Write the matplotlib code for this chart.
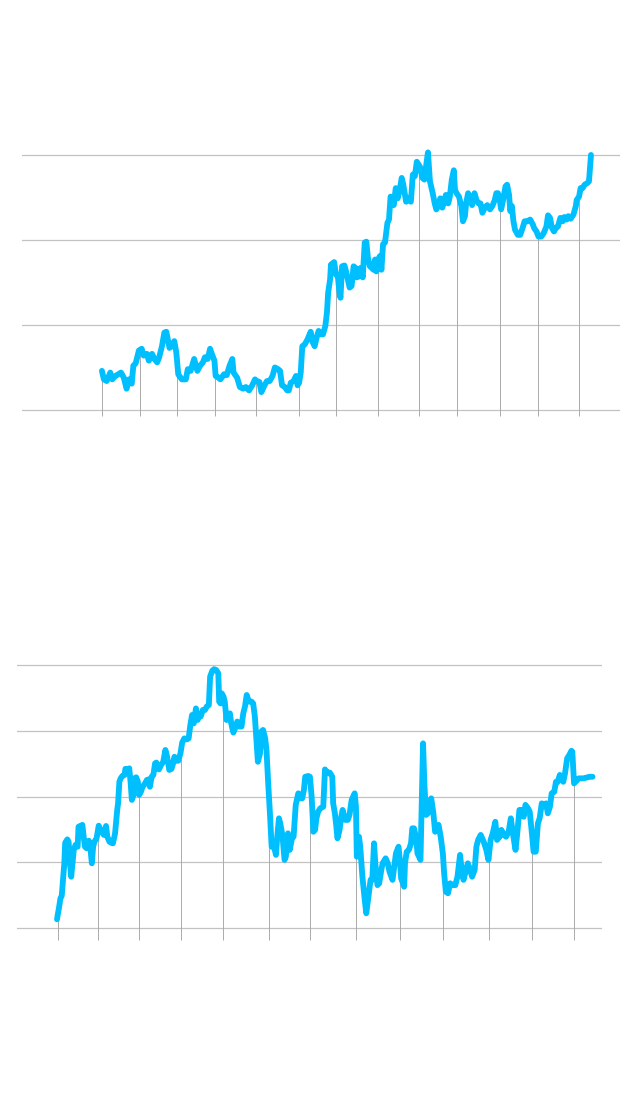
import numpy as np
from matplotlib import pyplot as plt

# top series (decimal year, value)
top_x = [2007.00, 2007.05, 2007.12, 2007.21, 2007.26, 2007.34, 2007.41, 2007.48, 2007.55, 2007.62,
         2007.68, 2007.75, 2007.79, 2007.85, 2007.93, 2008.00, 2008.05, 2008.13, 2008.18, 2008.26,
         2008.32, 2008.39, 2008.44, 2008.51, 2008.57, 2008.62, 2008.70, 2008.75, 2008.82, 2008.87,
         2008.92, 2009.01, 2009.11, 2009.16, 2009.23, 2009.32, 2009.40, 2009.47, 2009.54, 2009.59,
         2009.66, 2009.72, 2009.78, 2009.83, 2009.86, 2009.93, 2009.98, 2010.07, 2010.14, 2010.21,
         2010.28, 2010.31, 2010.40, 2010.47, 2010.55, 2010.62, 2010.70, 2010.78, 2010.85, 2010.89,
         2010.96, 2011.01, 2011.09, 2011.15, 2011.22, 2011.29, 2011.35, 2011.43, 2011.48, 2011.53,
         2011.60, 2011.66, 2011.70, 2011.75, 2011.82, 2011.88, 2011.92, 2011.96, 2012.00, 2012.04,
         2012.10, 2012.17, 2012.25, 2012.29, 2012.35, 2012.41, 2012.45, 2012.51, 2012.56, 2012.62,
         2012.66, 2012.69, 2012.74, 2012.76, 2012.84, 2012.89, 2012.93, 2012.97, 2013.00, 2013.04,
         2013.10, 2013.14, 2013.20, 2013.23, 2013.28, 2013.33, 2013.38, 2013.41, 2013.46, 2013.50,
         2013.56, 2013.61, 2013.65, 2013.69, 2013.74, 2013.79, 2013.83, 2013.87, 2013.90, 2013.95,
         2013.99, 2014.03, 2014.07, 2014.12, 2014.15, 2014.18, 2014.22, 2014.26, 2014.29, 2014.34,
         2014.39, 2014.44, 2014.49, 2014.54, 2014.58, 2014.65, 2014.70, 2014.77, 2014.82, 2014.87,
         2014.92, 2015.00, 2015.06, 2015.11, 2015.15, 2015.20, 2015.25, 2015.32, 2015.37, 2015.41,
         2015.46, 2015.51, 2015.56, 2015.61, 2015.65, 2015.71, 2015.75, 2015.80, 2015.85, 2015.88,
         2015.92, 2015.98, 2016.04, 2016.08, 2016.13, 2016.16, 2016.21, 2016.26, 2016.31, 2016.37,
         2016.42, 2016.47, 2016.52, 2016.57, 2016.63, 2016.69, 2016.76, 2016.82, 2016.88, 2016.92,
         2016.96, 2017.00, 2017.04, 2017.09, 2017.15, 2017.19, 2017.24, 2017.27, 2017.31, 2017.35,
         2017.39, 2017.46, 2017.52, 2017.58, 2017.63, 2017.70, 2017.77, 2017.84, 2017.87, 2017.93,
         2017.98, 2018.05, 2018.11, 2018.18, 2018.22, 2018.27, 2018.32, 2018.37, 2018.42, 2018.47,
         2018.53, 2018.59, 2018.63, 2018.69, 2018.73, 2018.79, 2018.86, 2018.92, 2018.94, 2019.00,
         2019.04, 2019.09, 2019.14, 2019.21, 2019.25, 2019.30]
top_y = [46, 36, 34, 44, 36, 40, 42, 44, 38, 25,
         36, 31, 52, 55, 70, 72, 64, 66, 58, 66,
         60, 56, 62, 75, 91, 92, 73, 75, 81, 68,
         42, 36, 36, 48, 46, 60, 46, 52, 56, 62,
         60, 72, 64, 58, 40, 38, 36, 42, 41, 52,
         60, 44, 38, 27, 25, 27, 23, 29, 36, 34,
         33, 21, 29, 34, 34, 40, 50, 48, 46, 29,
         27, 23, 23, 32, 34, 40, 29, 32, 44, 75,
         77, 83, 92, 81, 75, 87, 93, 89, 89, 99,
         115, 138, 154, 171, 174, 159, 159, 140, 132, 169,
         170, 163, 150, 144, 146, 169, 167, 156, 157, 167,
         156, 197, 198, 179, 169, 167, 165, 177, 163, 177,
         181, 165, 195, 197, 208, 220, 224, 251, 247, 241,
         261, 249, 259, 273, 265, 245, 249, 245, 277, 275,
         292, 286, 273, 271, 286, 303, 269, 255, 243, 236,
         240, 249, 238, 245, 253, 243, 251, 271, 282, 259,
         255, 251, 240, 222, 228, 243, 255, 249, 241, 255,
         247, 243, 243, 232, 238, 241, 236, 240, 247, 255,
         255, 249, 236, 247, 263, 265, 253, 234, 240, 222,
         212, 206, 206, 214, 222, 222, 224, 218, 214, 210,
         204, 204, 208, 216, 229, 226, 214, 210, 214, 216,
         226, 222, 227, 224, 228, 225, 230, 240, 247, 251,
         261, 261, 265, 267, 269, 300]
top_grid = [0, 100, 200, 300]
top_ticks = [2007.00, 2007.96, 2008.89, 2009.84, 2010.87, 2011.96, 2012.89,
             2013.94, 2014.98, 2015.93, 2017.01, 2017.97, 2019.00]

# bottom series (decimal year, value)
bot_x = [2006.98, 2007.03, 2007.06, 2007.09, 2007.12, 2007.15, 2007.17, 2007.22, 2007.25, 2007.28,
         2007.31, 2007.34, 2007.37, 2007.41, 2007.46, 2007.48, 2007.53, 2007.57, 2007.60, 2007.63,
         2007.67, 2007.72, 2007.76, 2007.79, 2007.82, 2007.85, 2007.90, 2007.95, 2007.99, 2008.02,
         2008.07, 2008.12, 2008.15, 2008.20, 2008.24, 2008.28, 2008.33, 2008.38, 2008.40, 2008.43,
         2008.46, 2008.50, 2008.55, 2008.57, 2008.61, 2008.66, 2008.69, 2008.72, 2008.76, 2008.78,
         2008.82, 2008.86, 2008.89, 2008.93, 2008.97, 2009.02, 2009.07, 2009.11, 2009.14, 2009.18,
         2009.22, 2009.26, 2009.29, 2009.32, 2009.35, 2009.40, 2009.45, 2009.50, 2009.54, 2009.59,
         2009.64, 2009.67, 2009.71, 2009.75, 2009.80, 2009.85, 2009.89, 2009.94, 2010.00, 2010.04,
         2010.08, 2010.12, 2010.16, 2010.21, 2010.25, 2010.28, 2010.32, 2010.37, 2010.42, 2010.46,
         2010.51, 2010.54, 2010.59, 2010.63, 2010.68, 2010.73, 2010.75, 2010.78, 2010.81, 2010.85,
         2010.88, 2010.92, 2010.97, 2011.00, 2011.03, 2011.08, 2011.13, 2011.17, 2011.22, 2011.27,
         2011.31, 2011.35, 2011.39, 2011.44, 2011.50, 2011.54, 2011.58, 2011.61, 2011.65, 2011.70,
         2011.73, 2011.77, 2011.82, 2011.85, 2011.89, 2011.93, 2011.97, 2012.01, 2012.07, 2012.10,
         2012.14, 2012.17, 2012.22, 2012.27, 2012.30, 2012.35, 2012.39, 2012.45, 2012.48, 2012.53,
         2012.59, 2012.63, 2012.68, 2012.72, 2012.75, 2012.82, 2012.86, 2012.90, 2012.94, 2012.98,
         2013.01, 2013.05, 2013.10, 2013.17, 2013.21, 2013.26, 2013.32, 2013.38, 2013.40, 2013.44,
         2013.47, 2013.50, 2013.55, 2013.58, 2013.62, 2013.68, 2013.74, 2013.78, 2013.83, 2013.90,
         2013.93, 2013.95, 2014.00, 2014.03, 2014.08, 2014.13, 2014.17, 2014.22, 2014.27, 2014.31,
         2014.35, 2014.38, 2014.43, 2014.47, 2014.52, 2014.55, 2014.62, 2014.67, 2014.71, 2014.78,
         2014.82, 2014.86, 2014.92, 2014.95, 2014.98, 2015.05, 2015.07, 2015.11, 2015.16, 2015.21,
         2015.24, 2015.28, 2015.33, 2015.36, 2015.43, 2015.49, 2015.52, 2015.56, 2015.60, 2015.63,
         2015.68, 2015.73, 2015.77, 2015.80, 2015.85, 2015.90, 2015.95, 2015.98, 2016.02, 2016.07,
         2016.12, 2016.18, 2016.24, 2016.29, 2016.35, 2016.38, 2016.43, 2016.49, 2016.53, 2016.56,
         2016.63, 2016.69, 2016.73, 2016.77, 2016.83, 2016.90, 2016.96, 2017.01, 2017.06, 2017.11,
         2017.17, 2017.21, 2017.27, 2017.31, 2017.37, 2017.42, 2017.48, 2017.53, 2017.59, 2017.64,
         2017.68, 2017.73, 2017.78, 2017.83, 2017.87, 2017.93, 2017.97, 2018.02, 2018.06, 2018.11,
         2018.16, 2018.20, 2018.25, 2018.30, 2018.35, 2018.39, 2018.44, 2018.48, 2018.54, 2018.58,
         2018.62, 2018.67, 2018.71, 2018.75, 2018.79, 2018.84, 2018.89, 2018.94, 2018.96, 2019.00,
         2019.06, 2019.11, 2019.22, 2019.36, 2019.43]
bot_y = [3.3, 8.1, 11.3, 12.2, 18.3, 24.6, 32.4, 33.7, 32.8, 24.6,
         19.5, 24.6, 29.7, 31.6, 30.9, 38.5, 38.9, 39.2, 34.7, 30.9,
         30.3, 33.2, 29.7, 24.6, 30.9, 32.8, 34.1, 38.9, 37.3, 36.6,
         35.4, 38.8, 34.7, 32.8, 32.4, 32.2, 36.0, 44.9, 47.4, 55.6,
         56.9, 57.8, 58.2, 60.5, 60.3, 60.7, 55.6, 48.7, 50.6, 56.9,
         57.3, 55.6, 50.6, 51.8, 53.7, 54.8, 56.3, 56.5, 53.7, 57.5,
         58.2, 62.6, 62.9, 60.7, 60.3, 62.0, 63.2, 67.7, 65.1, 60.1,
         60.5, 62.0, 65.1, 63.6, 63.6, 66.4, 70.5, 72.1, 71.7, 72.1,
         77.2, 81.0, 77.8, 83.5, 79.1, 81.0, 80.4, 82.9, 82.9, 84.2,
         84.8, 95.6, 97.8, 98.4, 98.1, 96.8, 86.1, 85.4, 89.2, 88.0,
         86.1, 79.1, 81.0, 81.6, 77.8, 74.3, 76.3, 78.5, 76.6, 76.6,
         81.6, 84.2, 88.6, 86.1, 86.1, 85.4, 80.4, 72.8, 63.2, 66.4,
         74.7, 75.3, 72.1, 67.7, 55.0, 43.6, 30.9, 32.2, 27.8, 34.7,
         41.7, 39.8, 35.4, 25.9, 27.1, 36.0, 29.7, 34.7, 34.7, 46.8,
         51.2, 49.3, 49.3, 52.5, 57.5, 57.8, 57.5, 49.9, 36.6, 37.3,
         41.7, 44.2, 45.5, 46.1, 60.3, 59.1, 59.1, 57.5, 47.4, 43.6,
         39.2, 34.1, 37.3, 41.7, 44.9, 41.1, 41.1, 43.0, 48.7, 51.2,
         46.1, 27.1, 34.7, 30.9, 19.5, 11.3, 5.6, 11.9, 18.3, 18.3,
         32.2, 24.6, 16.3, 17.0, 22.1, 24.6, 26.5, 24.6, 21.4, 18.3,
         23.3, 28.4, 30.9, 25.9, 18.9, 15.7, 24.6, 29.0, 29.7, 32.2,
         37.9, 37.9, 34.1, 28.4, 25.9, 70.2, 55.0, 43.0, 43.6, 46.1,
         49.3, 43.6, 36.6, 37.3, 39.2, 34.7, 28.4, 20.8, 13.8, 13.2,
         17.0, 16.3, 16.3, 19.5, 27.8, 23.3, 18.3, 22.1, 24.6, 23.3,
         19.5, 22.1, 30.9, 33.5, 35.4, 32.8, 29.7, 25.9, 33.5, 36.0,
         40.4, 33.5, 34.7, 37.3, 35.4, 34.7, 36.6, 41.7, 34.7, 29.7,
         36.0, 44.9, 44.9, 42.3, 46.8, 45.5, 44.2, 36.0, 29.0, 29.0,
         39.8, 41.7, 47.4, 46.8, 47.4, 43.6, 46.1, 51.2, 51.8, 55.6,
         55.6, 58.2, 56.9, 55.6, 58.8, 64.5, 65.8, 67.4, 67.0, 55.0,
         56.0, 56.9, 56.9, 57.5, 57.5]
bot_grid = [0, 25, 50, 75, 100]
bot_ticks = [2007.00, 2007.93, 2008.88, 2009.86, 2010.84, 2011.91, 2012.86,
             2013.94, 2014.95, 2015.95, 2017.03, 2018.03, 2019.00]

line_color = '#00BFFF'
grid_color = '#c2c2c2'
drop_color = '#ababab'

W, H = 640, 1104
fig = plt.figure(figsize=(W/100, H/100), dpi=100)

def add_panel(px_left, px_right, px_top, px_bottom):
    return fig.add_axes([px_left/W, 1 - px_bottom/H, (px_right-px_left)/W, (px_bottom-px_top)/H])

def draw(ax, x, y, grid, ticks, xlim, ylim, drop_bottom):
    ax.set_xlim(*xlim)
    ax.set_ylim(*ylim)
    for g in grid:
        ax.axhline(g, color=grid_color, lw=0.9, zorder=1)
    tops = np.interp(ticks, x, y)
    ax.vlines(ticks, drop_bottom, tops, color=drop_color, lw=0.7, zorder=2)
    ax.plot(x, y, color=line_color, lw=4.2, solid_joinstyle='round', solid_capstyle='round', zorder=3)
    ax.axis('off')

#%% top chart
ax1 = add_panel(22, 620, 140, 420)
draw(ax1, top_x, top_y, top_grid, top_ticks, (2004.99, 2020.03), (-11.8, 317.6), -7.1)

#%% bottom chart
ax2 = add_panel(17, 602, 655, 945)
draw(ax2, bot_x, bot_y, bot_grid, bot_ticks, (2006.05, 2019.65), (-6.46, 103.8), -4.56)

plt.savefig('out.png', dpi=100, facecolor='white')
